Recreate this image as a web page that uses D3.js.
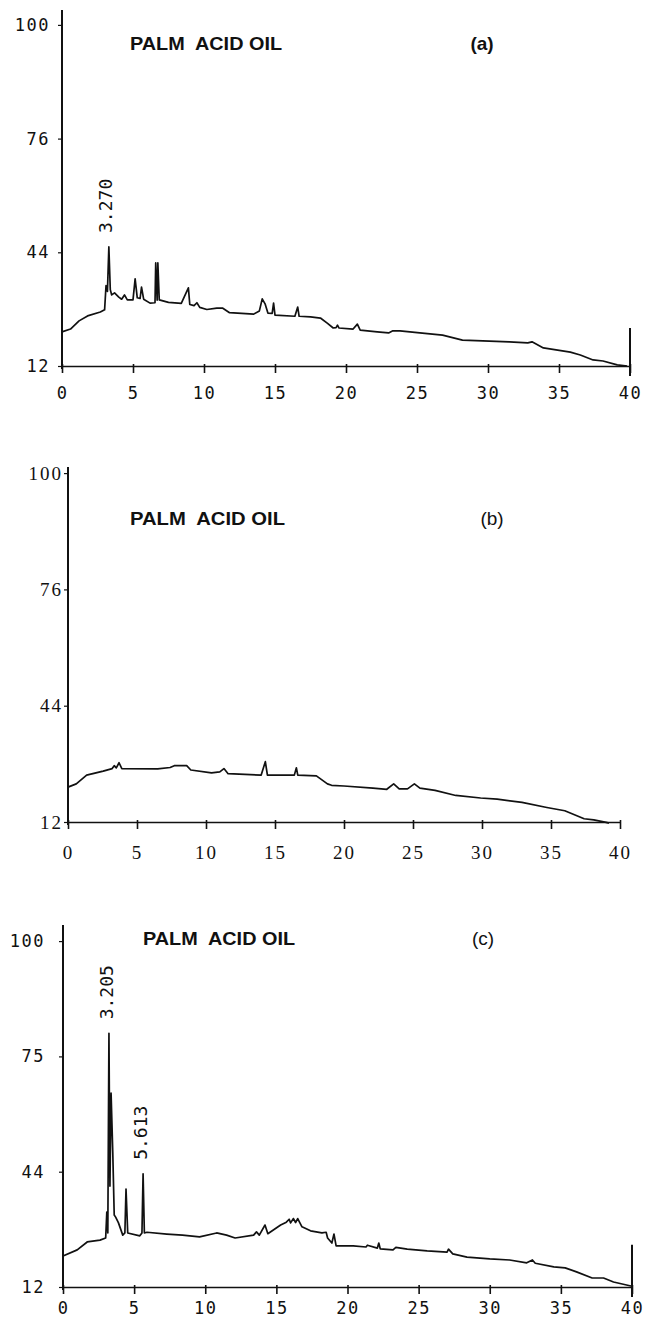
<!DOCTYPE html>
<html>
<head>
<meta charset="utf-8">
<script src="https://cdn.jsdelivr.net/npm/d3@7"></script>
<style>
  body { margin: 0; background: #fff; }
  svg { display: block; }
  .trace { fill: none; stroke: #111; stroke-width: 1.7; stroke-linejoin: round; }
  .title { font-family: "Liberation Sans", Arial, sans-serif; font-weight: bold; font-size: 19px; fill: #111; white-space: pre; }
  .tag { font-family: "Liberation Sans", Arial, sans-serif; font-size: 19px; fill: #111; }
  .peak { font-family: "DejaVu Sans Mono", monospace; font-size: 18px; fill: #111; }
</style>
</head>
<body>
<svg id="chart"></svg>
<script>
// retention time axis (min) and response axis labels
var xTicks = [0, 5, 10, 15, 20, 25, 30, 35, 40];
var yTicksA = [12, 44, 76, 100];
var yTicksB = [12, 44, 76, 100];
var yTicksC = [12, 44, 75, 100];

// (a) trace
var timeA = [0, 0.6, 1.2, 1.8, 2.7, 3.0, 3.1, 3.2, 3.3, 3.4, 3.5, 3.7, 4.0, 4.2, 4.4, 4.6, 5.0, 5.15, 5.3, 5.5,
  5.6, 5.75, 6.2, 6.55, 6.6, 6.7, 6.75, 6.85, 7.5, 8.4, 8.9, 9.0, 9.3, 9.5, 9.7, 10.2, 10.9, 11.3, 11.8, 13.5,
  13.9, 14.1, 14.3, 14.5, 14.8, 14.9, 15.0, 16.4, 16.6, 16.7, 17.5, 18.2, 18.7, 19.1, 19.3, 19.4, 19.5, 20.5, 20.8, 21.0,
  22.2, 23.0, 23.3, 23.8, 25.2, 26.8, 28.2, 30.1, 31.5, 32.8, 33.1, 33.9, 35.8, 36.5, 37.4, 38.1, 39.1, 39.8];
var signalA = [21.6, 22.4, 24.7, 26.1, 27.2, 27.8, 34.6, 33.0, 45.5, 33.5, 32.0, 32.6, 31.4, 30.8, 32.0, 30.6, 30.6, 36.5, 31.2, 31.0,
  34.2, 30.8, 29.7, 29.8, 41.0, 30.5, 41.0, 30.6, 29.9, 29.6, 34.0, 29.3, 29.0, 29.8, 28.5, 27.9, 28.3, 28.3, 27.0, 26.6,
  27.5, 30.9, 29.5, 26.9, 26.8, 29.7, 26.3, 26.0, 28.6, 26.0, 25.8, 25.5, 24.0, 22.7, 22.8, 23.5, 22.7, 22.4, 23.8, 22.1,
  21.6, 21.3, 21.9, 21.9, 21.3, 20.7, 19.3, 19.0, 18.8, 18.5, 18.8, 17.1, 15.9, 15.1, 13.7, 13.4, 12.3, 12.0];

// (b) trace
var timeB = [0, 0.6, 1.35, 2.55, 3.2, 3.35, 3.5, 3.7, 3.9, 6.5, 7.4, 7.7, 8.6, 8.9, 10.4, 11.0, 11.3, 11.6, 14.0, 14.3,
  14.45, 16.4, 16.55, 16.65, 18.0, 18.8, 19.1, 20.0, 22.1, 23.1, 23.6, 24.0, 24.6, 25.1, 25.5, 26.6, 28.1, 29.9, 31.1, 32.9,
  34.7, 36.0, 37.4, 38.1, 39.0, 39.2];
var signalB = [21.6, 22.5, 24.9, 26.0, 26.7, 27.5, 26.9, 28.3, 26.7, 26.6, 27.0, 27.5, 27.5, 26.3, 25.5, 25.8, 26.7, 25.3, 24.9, 28.6,
  24.9, 24.9, 26.9, 24.9, 24.7, 22.5, 22.1, 21.9, 21.3, 21.0, 22.5, 21.1, 21.1, 22.5, 21.3, 20.7, 19.3, 18.6, 18.3, 17.4,
  16.0, 15.1, 12.9, 12.6, 11.9, 11.7];

// (c) trace
var timeC = [0, 1.0, 1.7, 2.6, 3.0, 3.08, 3.15, 3.23, 3.3, 3.38, 3.5, 3.6, 3.7, 3.9, 4.2, 4.35, 4.43, 4.55, 5.4, 5.55,
  5.63, 5.72, 5.9, 7.3, 8.4, 9.6, 10.8, 11.5, 12.1, 13.4, 13.6, 13.8, 14.2, 14.4, 15.3, 15.7, 15.9, 16.0, 16.2, 16.35,
  16.5, 16.8, 17.4, 18.2, 18.5, 18.6, 18.9, 19.05, 19.2, 20.4, 21.3, 21.4, 22.1, 22.2, 22.3, 23.2, 23.4, 24.2, 25.6, 27.0,
  27.1, 27.4, 28.4, 30.0, 31.4, 32.6, 33.0, 33.2, 34.5, 35.3, 36.1, 37.2, 38.0, 38.7, 40.0];
var signalC = [20.6, 22.3, 24.5, 25.0, 25.6, 32.8, 27.0, 80.0, 40.0, 65.1, 49.0, 32.0, 31.4, 29.8, 26.4, 27.0, 39.2, 27.0, 26.2, 27.0,
  43.4, 27.0, 27.2, 26.7, 26.4, 25.9, 27.0, 26.4, 25.6, 26.4, 27.3, 26.4, 29.2, 26.8, 29.2, 30.0, 30.8, 29.8, 31.0, 29.9,
  31.0, 28.7, 27.6, 27.0, 27.2, 25.6, 24.2, 26.7, 23.4, 23.4, 23.1, 23.6, 22.8, 24.2, 22.6, 22.3, 23.0, 22.5, 22.0, 21.7,
  22.5, 21.2, 20.3, 19.8, 19.5, 18.7, 19.5, 18.6, 17.6, 17.3, 16.2, 14.5, 14.5, 13.4, 12.2];

// labelled peaks
var peaksA = [3.270];
var peakHeightsA = [45.5];
var peaksC = [3.205, 5.613];
var peakHeightsC = [80.0, 43.4];

// stop marker at end of run (top of the vertical stroke, response units)
var stopA = 22.7;
var stopC = 23.7;

var W = 648, H = 1318;
var svg = d3.select("#chart").attr("width", W).attr("height", H);

var panels = [
  { time: timeA, signal: signalA, yTicks: yTicksA, tag: "(a)", tagBold: true,
    left: 62, right: 630, bottom: 366, step: 113.7, axisTop: 10,
    titleX: 130, titleY: 50, tagX: 482, tagW: 152,
    labelFont: '"DejaVu Sans Mono", monospace', labelSize: 17, labelSpacing: 1.5,
    xPad: 14, yPad: 8, peaks: peaksA, peakHeights: peakHeightsA, stop: stopA },
  { time: timeB, signal: signalB, yTicks: yTicksB, tag: "(b)", tagBold: false,
    left: 68, right: 620, bottom: 822, step: 116.3, axisTop: 467,
    titleX: 130, titleY: 525, tagX: 492, tagW: 155,
    labelFont: '"Liberation Serif", "Times New Roman", serif', labelSize: 19, labelSpacing: 2,
    xPad: 17, yPad: 1, peaks: [], peakHeights: [], stop: null },
  { time: timeC, signal: signalC, yTicks: yTicksC, tag: "(c)", tagBold: false,
    left: 63, right: 632, bottom: 1287, step: 115.3, axisTop: 925,
    titleX: 143, titleY: 945, tagX: 483, tagW: 152,
    labelFont: '"DejaVu Sans Mono", monospace', labelSize: 17, labelSpacing: 1.5,
    xPad: 8, yPad: 14, peaks: peaksC, peakHeights: peakHeightsC, stop: stopC }
];

panels.forEach(function(p) {
  var x = d3.scaleLinear().domain([0, 40]).range([p.left, p.right]);
  // tick labels are evenly spaced on the recorder chart, so map them piecewise
  var y = d3.scaleLinear()
    .domain(p.yTicks)
    .range(p.yTicks.map(function(d, i) { return p.bottom - i * p.step; }));

  var g = svg.append("g");

  // x axis
  var xa = g.append("g")
    .attr("transform", "translate(0," + p.bottom + ")")
    .call(d3.axisBottom(x).tickValues(xTicks).tickSizeInner(7).tickSizeOuter(0).tickPadding(p.xPad));
  xa.select(".domain").attr("stroke", "#111").attr("stroke-width", 1.5);
  xa.selectAll(".tick line").attr("stroke", "#111").attr("stroke-width", 1.6).attr("y1", -2);
  xa.selectAll(".tick text")
    .attr("fill", "#111")
    .style("font-family", p.labelFont)
    .style("font-size", p.labelSize + "px")
    .style("letter-spacing", p.labelSpacing + "px");

  // y axis
  var ya = g.append("g")
    .attr("transform", "translate(" + p.left + ",0)")
    .call(d3.axisLeft(y).tickValues(p.yTicks).tickSizeInner(4).tickSizeOuter(0).tickPadding(p.yPad));
  ya.select(".domain").remove();
  ya.selectAll(".tick line").attr("stroke", "#111").attr("stroke-width", 1.2);
  ya.selectAll(".tick text")
    .attr("fill", "#111")
    .style("font-family", p.labelFont)
    .style("font-size", p.labelSize + "px")
    .style("letter-spacing", p.labelSpacing + "px");
  g.append("line")
    .attr("x1", p.left).attr("x2", p.left)
    .attr("y1", p.axisTop).attr("y2", y(p.yTicks[0]) + 3)
    .attr("stroke", "#111").attr("stroke-width", 2);

  // chromatogram
  var pts = p.time.map(function(t, i) { return [t, p.signal[i]]; });
  var line = d3.line().x(function(d) { return x(d[0]); }).y(function(d) { return y(d[1]); });
  g.append("path").datum(pts).attr("class", "trace").attr("d", line);

  // end-of-run marker
  if (p.stop !== null) {
    g.append("line")
      .attr("x1", x(40)).attr("x2", x(40))
      .attr("y1", y(p.stop)).attr("y2", y(p.yTicks[0]) + 10)
      .attr("stroke", "#111").attr("stroke-width", 2);
  }

  // peak retention labels
  p.peaks.forEach(function(rt, i) {
    var px = x(rt) + 4, py = y(p.peakHeights[i]) - 14;
    g.append("text")
      .attr("class", "peak")
      .attr("transform", "translate(" + px + "," + py + ") rotate(-90)")
      .text(rt.toFixed(3));
  });

  // titles
  g.append("text").attr("class", "title")
    .attr("x", p.titleX).attr("y", p.titleY)
    .attr("textLength", p.tagW).attr("lengthAdjust", "spacingAndGlyphs")
    .text("PALM  ACID OIL");
  g.append("text").attr("class", "tag")
    .attr("x", p.tagX).attr("y", p.titleY)
    .attr("text-anchor", "middle")
    .style("font-weight", p.tagBold ? "bold" : "normal")
    .text(p.tag);
});
</script>
</body>
</html>
